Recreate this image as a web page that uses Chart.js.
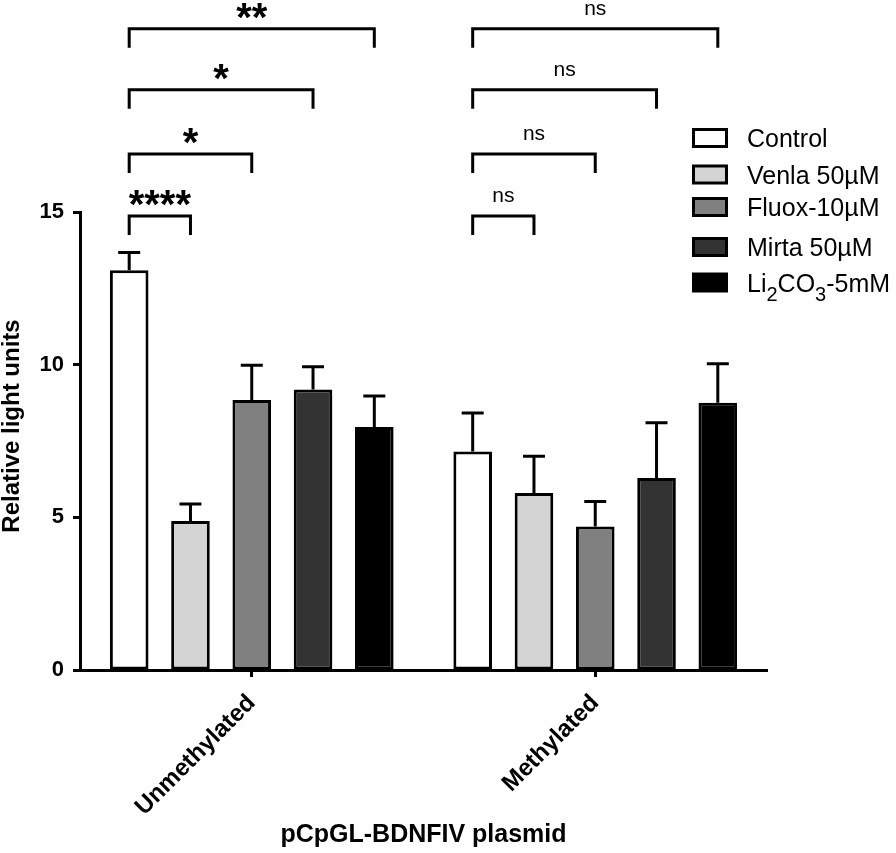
<!DOCTYPE html>
<html><head><meta charset="utf-8">
<script src="https://cdn.jsdelivr.net/npm/chart.js@4"></script>
<style>html,body{margin:0;padding:0;background:#fff}#wrap{width:896px;height:853px}</style>
</head><body><div id="wrap"><canvas id="c" width="896" height="853"></canvas></div>
<script>
const categories = ['Unmethylated', 'Methylated'];
const seriesNames = ['Control', 'Venla 50µM', 'Fluox-10µM', 'Mirta 50µM', 'Li2CO3-5mM'];
const controlVals = [13.09, 7.16];
const venlaVals = [4.88, 5.80];
const fluoxVals = [8.84, 4.70];
const mirtaVals = [9.19, 6.29];
const liVals = [7.96, 8.75];
const controlErr = [0.58, 1.26];
const venlaErr = [0.56, 1.20];
const fluoxErr = [1.14, 0.82];
const mirtaErr = [0.74, 1.81];
const liErr = [1.01, 1.28];
const yTicks = [0, 5, 10, 15];
const sigUnmeth = ['****', '*', '*', '**'];
const sigMeth = ['ns', 'ns', 'ns', 'ns'];
const sigLevels = [14.87, 16.9, 19.0, 21.0];

const FONT = "'Liberation Sans', Arial, Helvetica, sans-serif";
const fills = ['#ffffff', '#d4d4d4', '#808080', '#333333', '#000000'];
const allVals = [controlVals, venlaVals, fluoxVals, mirtaVals, liVals];
const allErr = [controlErr, venlaErr, fluoxErr, mirtaErr, liErr];

const datasets = allVals.map((vals, i) => ({
  label: seriesNames[i],
  data: vals,
  errors: allErr[i],
  backgroundColor: fills[i],
  borderColor: '#000',
  borderWidth: 3,
  borderSkipped: false,
  barPercentage: 0.63,
  categoryPercentage: 0.892
}));

const errorBars = {
  id: 'errorBars',
  afterDatasetsDraw(chart) {
    const ctx = chart.ctx, ys = chart.scales.y;
    ctx.save();
    ctx.strokeStyle = '#000';
    ctx.lineWidth = 3;
    chart.data.datasets.forEach((ds, i) => {
      const meta = chart.getDatasetMeta(i);
      meta.data.forEach((bar, j) => {
        const top = ys.getPixelForValue(ds.data[j] + ds.errors[j]);
        ctx.beginPath();
        ctx.moveTo(bar.x, bar.y);
        ctx.lineTo(bar.x, top);
        ctx.moveTo(bar.x - 11, top);
        ctx.lineTo(bar.x + 11, top);
        ctx.stroke();
      });
    });
    ctx.restore();
  }
};

const extras = {
  id: 'extras',
  afterDraw(chart) {
    const ctx = chart.ctx, ys = chart.scales.y;
    ctx.save();
    ctx.strokeStyle = '#000';
    ctx.fillStyle = '#000';
    ctx.lineWidth = 3;
    [sigUnmeth, sigMeth].forEach((labels, g) => {
      const x1 = chart.getDatasetMeta(0).data[g].x;
      labels.forEach((lab, k) => {
        const x2 = chart.getDatasetMeta(k + 1).data[g].x;
        const y = ys.getPixelForValue(sigLevels[k]);
        ctx.beginPath();
        ctx.moveTo(x1, y + 19);
        ctx.lineTo(x1, y);
        ctx.lineTo(x2, y);
        ctx.lineTo(x2, y + 19);
        ctx.stroke();
        ctx.textAlign = 'center';
        ctx.textBaseline = 'alphabetic';
        if (lab === 'ns') {
          ctx.font = '21px ' + FONT;
          ctx.fillText(lab, (x1 + x2) / 2, y - 14);
        } else {
          ctx.font = 'bold 40px ' + FONT;
          ctx.fillText(lab, (x1 + x2) / 2, y + 2);
        }
      });
    });
    ctx.save();
    ctx.translate(19, 426);
    ctx.rotate(-Math.PI / 2);
    ctx.font = 'bold 24px ' + FONT;
    ctx.textAlign = 'center';
    ctx.textBaseline = 'alphabetic';
    ctx.fillText('Relative light units', 0, 0);
    ctx.restore();
    const rows = [138, 174.5, 207, 247, 282.5];
    rows.forEach((cy, i) => {
      ctx.fillStyle = fills[i];
      ctx.fillRect(693.5, cy - 8.5, 33, 17);
      ctx.strokeStyle = '#000';
      ctx.lineWidth = 3;
      ctx.strokeRect(693.5, cy - 8.5, 33, 17);
      ctx.fillStyle = '#000';
      ctx.textAlign = 'left';
      ctx.textBaseline = 'alphabetic';
      const base = cy + 9;
      let x = 747;
      if (i < 4) {
        ctx.font = '25px ' + FONT;
        ctx.fillText(seriesNames[i], x, base);
      } else {
        const parts = [['Li', 0], ['2', 1], ['CO', 0], ['3', 1], ['-5mM', 0]];
        parts.forEach(([t, sub]) => {
          ctx.font = (sub ? '20px ' : '25px ') + FONT;
          ctx.fillText(t, x, base + (sub ? 9 : 0));
          x += ctx.measureText(t).width;
        });
      }
    });
    ctx.restore();
  }
};

new Chart(document.getElementById('c'), {
  type: 'bar',
  data: { labels: categories, datasets },
  options: {
    responsive: false,
    devicePixelRatio: 1,
    animation: false,
    layout: { padding: { top: 212, right: 129, left: 0, bottom: 0 } },
    plugins: { legend: { display: false }, tooltip: { enabled: false } },
    scales: {
      x: {
        offset: true,
        grid: { display: true, offset: false, drawOnChartArea: false, drawTicks: true, tickLength: 7, tickWidth: 3, tickColor: '#000' },
        border: { display: true, color: '#000', width: 3 },
        ticks: { color: '#000', font: { family: FONT, size: 24, weight: 'bold' }, minRotation: 45, maxRotation: 45, padding: 12 },
        title: { display: true, text: 'pCpGL-BDNFIV plasmid', color: '#000', font: { family: FONT, size: 25, weight: 'bold' }, padding: { top: 0, bottom: 3 } },
        afterFit: s => { s.height = 183; }
      },
      y: {
        min: 0, max: 15,
        afterBuildTicks: s => { s.ticks = yTicks.map(v => ({ value: v })); },
        grid: { drawOnChartArea: false, drawTicks: true, tickLength: 7, tickWidth: 3, tickColor: '#000' },
        border: { display: true, color: '#000', width: 3 },
        ticks: { color: '#000', font: { family: FONT, size: 22, weight: 'bold' }, padding: 9 },
        afterFit: s => { s.width = 80; }
      }
    }
  },
  plugins: [errorBars, extras]
});
</script>
</body></html>
